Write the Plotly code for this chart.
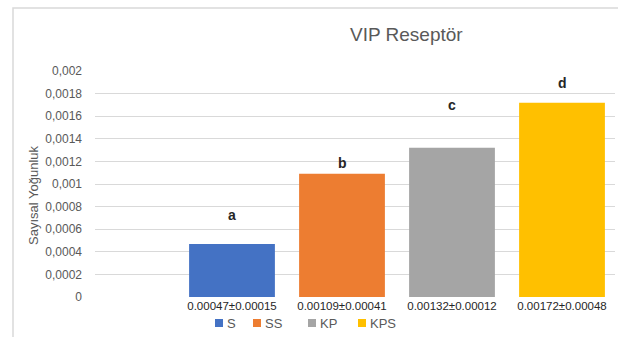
import plotly.graph_objects as go

groups = ["S", "SS", "KP", "KPS"]
means = [0.00047, 0.00109, 0.00132, 0.00172]
sds = [0.00015, 0.00041, 0.00012, 0.00048]
tick_labels = ["0.00047±0.00015", "0.00109±0.00041", "0.00132±0.00012", "0.00172±0.00048"]
letters = ["a", "b", "c", "d"]
letter_y = [0.000726, 0.001186, 0.001699, 0.001894]
colors = ["#4472C4", "#ED7D31", "#A5A5A5", "#FFC000"]
y_ticks = [0, 0.0002, 0.0004, 0.0006, 0.0008, 0.001, 0.0012, 0.0014, 0.0016, 0.0018, 0.002]
y_tick_text = ["0", "0,0002", "0,0004", "0,0006", "0,0008", "0,001", "0,0012", "0,0014", "0,0016", "0,0018", "0,002"]

positions = [1, 2, 3, 4]
FONT = "Liberation Sans"
GRAY = "#595959"

W, H = 618, 337
L, R, T, B = 95, 3, 71, 40
pw = W - L - R
ph = H - T - B

def px(xp):
    return (xp - L) / pw

def py(yp):
    return (H - B - yp) / ph

fig = go.Figure()
for g, m, c, p in zip(groups, means, colors, positions):
    fig.add_trace(go.Bar(x=[p], y=[m], name=g, marker=dict(color=c, line=dict(width=0)),
                         width=0.78, showlegend=False))

for p, l, ly in zip(positions, letters, letter_y):
    fig.add_annotation(x=p, y=ly, text="<b>" + l + "</b>", showarrow=False,
                       font=dict(family=FONT, size=14, color="#262626"),
                       xref="x", yref="y")

# frame
fig.add_shape(type="rect", xref="paper", yref="paper",
              x0=px(13), x1=px(640), y0=py(345), y1=py(8),
              line=dict(color="#D9D9D9", width=1.5), fillcolor="rgba(0,0,0,0)", layer="below")

# title
fig.add_annotation(xref="paper", yref="paper", x=px(406), y=py(35), text="VIP Reseptör",
                   showarrow=False, font=dict(family=FONT, size=19, color=GRAY),
                   xanchor="center", yanchor="middle")
# y axis title
fig.add_annotation(xref="paper", yref="paper", x=px(33), y=py(195), text="Sayısal Yoğunluk",
                   showarrow=False, textangle=-90, font=dict(family=FONT, size=13, color=GRAY),
                   xanchor="center", yanchor="middle")

# manual legend
legend_box_x = [215, 253, 308, 358]
for g, c, bx in zip(groups, colors, legend_box_x):
    fig.add_shape(type="rect", xref="paper", yref="paper",
                  x0=px(bx), x1=px(bx + 8), y0=py(327), y1=py(319),
                  line=dict(width=0), fillcolor=c)
    fig.add_annotation(xref="paper", yref="paper", x=px(bx + 10), y=py(323), text=g,
                       showarrow=False, xanchor="left", yanchor="middle",
                       font=dict(family=FONT, size=13, color=GRAY))

fig.update_layout(
    width=W, height=H,
    margin=dict(l=L, r=R, t=T, b=B, pad=0),
    paper_bgcolor="white", plot_bgcolor="white",
    barmode="overlay",
    showlegend=False,
    font=dict(family=FONT, color=GRAY),
)
x0 = 1 - (232 - L) / 110
fig.update_xaxes(range=[x0, x0 + pw / 110], tickvals=positions, ticktext=tick_labels,
                 showgrid=False, zeroline=False, showline=False, ticks="",
                 tickfont=dict(family=FONT, size=11.5, color="#262626"), fixedrange=True)
fig.update_yaxes(range=[0, 0.002], tickvals=y_ticks, ticktext=y_tick_text,
                 showgrid=True, gridcolor="#D9D9D9", gridwidth=1, zeroline=False,
                 showline=False, ticks="", ticklabelstandoff=12,
                 tickfont=dict(family=FONT, size=12, color=GRAY))

fig.write_html("out.html", config={"displayModeBar": False},
               post_script="document.body.style.margin='0';document.body.style.overflow='hidden';")
